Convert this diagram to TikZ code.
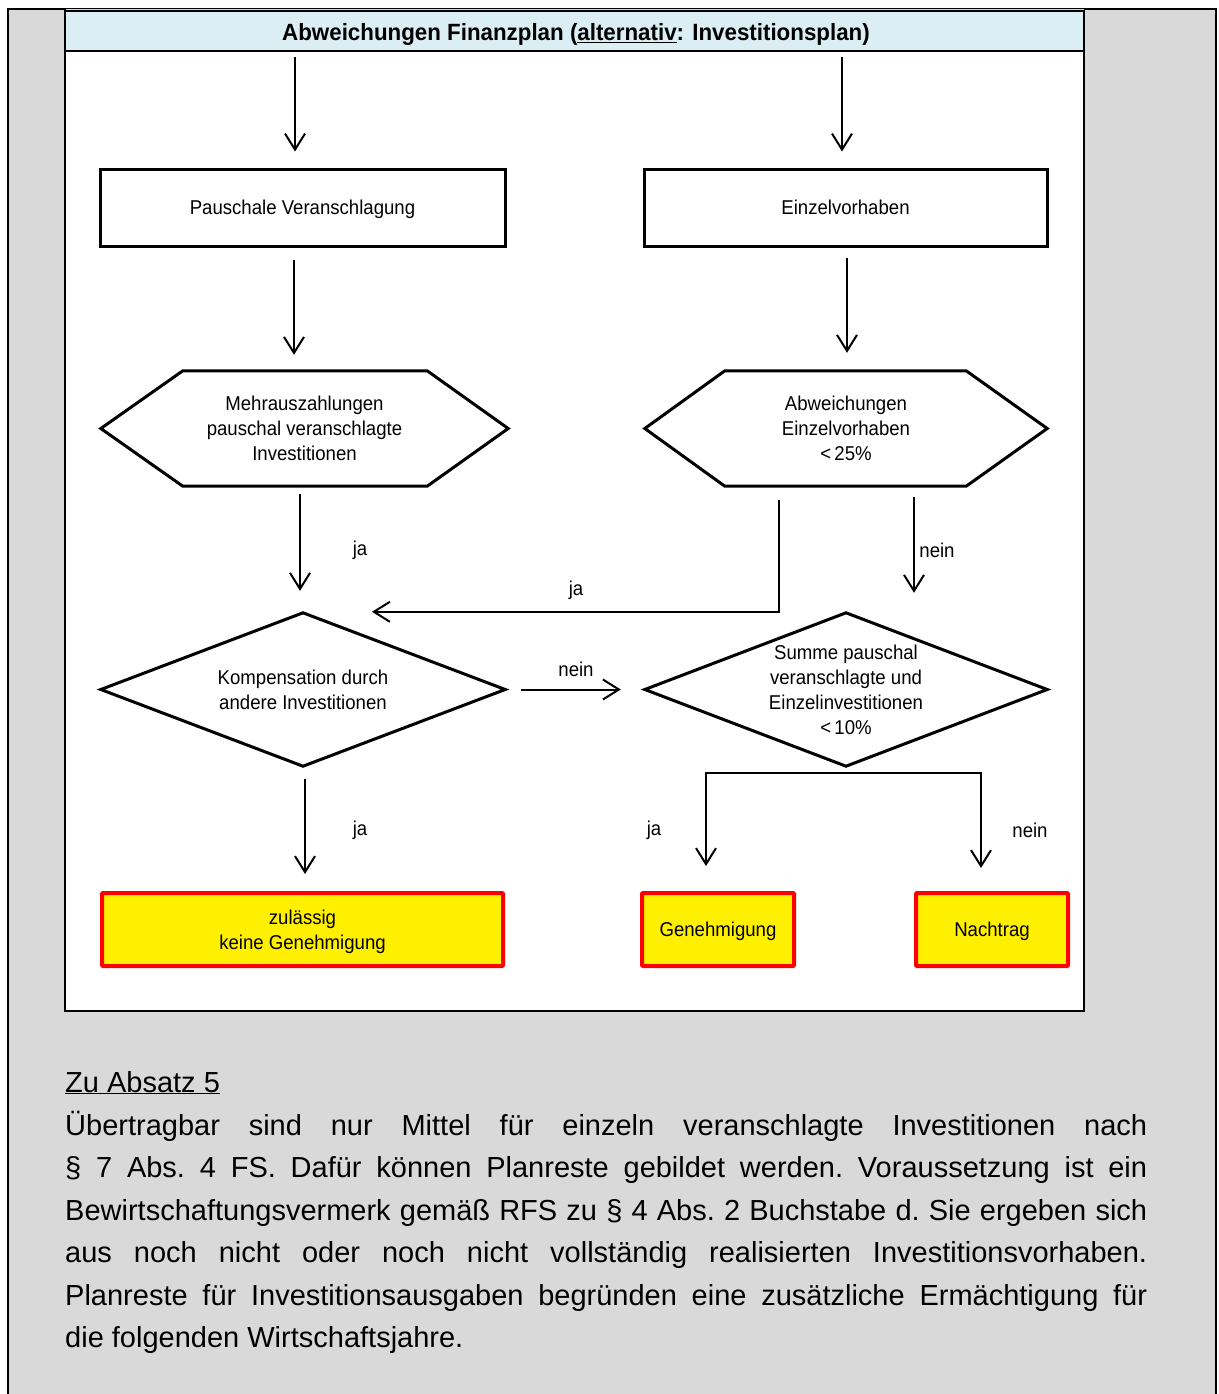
\documentclass[tikz,border=0pt]{standalone}
\usepackage{fontspec}
\setmainfont{Liberation Sans}
\newfontfamily\flowfam{Liberation Sans}[FakeStretch=0.93]
\newfontfamily\ttlfam{Liberation Sans}[FakeStretch=0.95]
\usetikzlibrary{arrows.meta,calc}
\definecolor{bggray}{HTML}{D9D9D9}
\definecolor{titleblue}{HTML}{DAEEF3}
\definecolor{resyellow}{HTML}{FFF000}
\definecolor{resred}{HTML}{FF0000}
\newcommand\flowfont{\flowfam\fontsize{20}{25}\selectfont}
\newcommand\ttlfont{\ttlfam\fontsize{23.5}{26}\selectfont\bfseries}
\newcommand\bodyfont{\fontsize{29}{42.5}\selectfont\frenchspacing}
\newcommand\jline[1]{\makebox[1082pt][s]{#1}}
\begin{document}
\begin{tikzpicture}[x=1pt,y=-1pt,
  arr/.style={line width=2pt,-{Straight Barb[length=16pt,width=20pt]}},
  stepbox/.style={draw,line width=3pt,fill=white,minimum height=77pt,inner sep=0pt,text depth=0pt,font=\flowfont},
  shapebox/.style={inner sep=0pt,align=center,text depth=0pt,font=\flowfont},
  outline/.style={draw,line width=3pt,line join=miter},
  result/.style={draw=resred,line width=4pt,fill=resyellow,rounded corners=1pt,minimum height=73pt,inner sep=0pt,align=center,text depth=0pt,font=\flowfont},
  lbl/.style={inner sep=0pt,font=\flowfont},
  bodytext/.style={anchor=base west,inner sep=0pt,font=\bodyfont}]
\useasboundingbox (0,0) rectangle (1218,1394);
% outer frame
\fill[bggray] (8,9) rectangle (1216,1400);
\draw[line width=2.5pt] (8,1400) -- (8,9) -- (1216,9) -- (1216,1400);
% panel
\draw[line width=2.5pt,fill=white] (65,11) rectangle (1084,1011);
\node[draw,line width=2.5pt,fill=titleblue,minimum width=1019pt,minimum height=40pt,inner sep=0pt] (title) at (574.5,31) {};
\node[anchor=base,inner sep=0pt,font=\ttlfont] (titletext) at (576,40.5)
  {Abweichungen Finanzplan (\underline{alternativ}: Investitionsplan)};
\draw[yellow,line width=1pt] (66,10) -- (1084,10);
% boxes
\node[stepbox,minimum width=405pt] (pv) at (302.5,207.5) {Pauschale Veranschlagung};
\node[stepbox,minimum width=403pt] (ev) at (845.5,207.5) {Einzelvorhaben};
% hexagons
\node[shapebox,minimum width=407pt,minimum height=115pt] (hl) at (304.5,428.5) {Mehrauszahlungen\\pauschal veranschlagte\\Investitionen};
\draw[outline] (hl.west) -- ($(hl.north west)+(82,0)$) -- ($(hl.north east)+(-81,0)$) -- (hl.east)
  -- ($(hl.south east)+(-81,0)$) -- ($(hl.south west)+(82,0)$) -- cycle;
\node[shapebox,minimum width=402pt,minimum height=115pt] (hr) at (846,428.5) {Abweichungen\\Einzelvorhaben\\<\thinspace25\%};
\draw[outline] (hr.west) -- ($(hr.north west)+(80,0)$) -- ($(hr.north east)+(-81,0)$) -- (hr.east)
  -- ($(hr.south east)+(-81,0)$) -- ($(hr.south west)+(80,0)$) -- cycle;
% diamonds
\node[shapebox,minimum width=404pt,minimum height=153pt] (dl) at (303,689.5) {Kompensation durch\\andere Investitionen};
\draw[outline] (dl.west) -- (dl.north) -- (dl.east) -- (dl.south) -- cycle;
\node[shapebox,minimum width=402pt,minimum height=153pt] (dr) at (846,689.5) {Summe pauschal\\veranschlagte und\\Einzelinvestitionen\\<\thinspace10\%};
\draw[outline] (dr.west) -- (dr.north) -- (dr.east) -- (dr.south) -- cycle;
% results
\node[result,minimum width=401pt] (zu) at (302.5,929.5) {zulässig\\keine Genehmigung};
\node[result,minimum width=152pt] (ge) at (718,929.5) {Genehmigung};
\node[result,minimum width=152pt] (na) at (992,929.5) {Nachtrag};
% connectors
\draw[arr] ($(title.south -| pv.north)+(-7.5,5)$) -- ($(pv.north)+(-7.5,-16)$);
\draw[arr] ($(title.south -| ev.north)+(-3.5,5)$) -- ($(ev.north)+(-3.5,-16)$);
\draw[arr] ($(pv.south)+(-8.5,12)$) -- ($(hl.north)+(-10.5,-16)$);
\draw[arr] ($(ev.south)+(1.5,10)$) -- ($(hr.north)+(1,-18)$);
\draw[arr] ($(hl.south)+(-4.5,8)$) -- ($(dl.north)+(-3,-22)$);
\draw[arr] ($(hr.south)+(-67,14)$) |- ($(dl.north)+(69,-1)$);
\draw[arr] ($(hr.south)+(68,11)$) -- ($(dr.north)+(68,-20)$);
\draw[arr] ($(dl.east)+(16,0)$) -- ($(dr.west)+(-24,0)$);
\draw[arr] ($(dl.south)+(2,13)$) -- ($(zu.north)+(2.5,-17)$);
\draw[arr] ($(dr.south)+(0,7)$) -| ($(ge.north)+(-12,-25)$);
\draw[arr] ($(dr.south)+(0,7)$) -| ($(na.north)+(-11,-23)$);
% labels
\node[lbl] (lja1) at (360,550) {ja};
\node[lbl] (lja2) at (576,590) {ja};
\node[lbl] (lnein1) at (937,550) {nein};
\node[lbl] (lnein2) at (576,669) {nein};
\node[lbl] (lja3) at (360,830) {ja};
\node[lbl] (lja4) at (654,830) {ja};
\node[lbl] (lnein3) at (1030,830) {nein};
% body text
\node[bodytext] (head) at (65,1092) {\underline{Zu Absatz 5}};
\node[bodytext] (t1) at (65,1135) {\jline{Übertragbar sind nur Mittel für einzeln veranschlagte Investitionen nach}};
\node[bodytext] (t2) at (65,1177.5) {\jline{§ 7 Abs. 4 FS. Dafür können Planreste gebildet werden. Voraussetzung ist ein}};
\node[bodytext] (t3) at (65,1220) {\jline{Bewirtschaftungsvermerk gemäß RFS zu § 4 Abs. 2 Buchstabe d. Sie ergeben sich}};
\node[bodytext] (t4) at (65,1262.5) {\jline{aus noch nicht oder noch nicht vollständig realisierten Investitionsvorhaben.}};
\node[bodytext] (t5) at (65,1305) {\jline{Planreste für Investitionsausgaben begründen eine zusätzliche Ermächtigung für}};
\node[bodytext] (t6) at (65,1347.5) {die folgenden Wirtschaftsjahre.};
\end{tikzpicture}
\end{document}
